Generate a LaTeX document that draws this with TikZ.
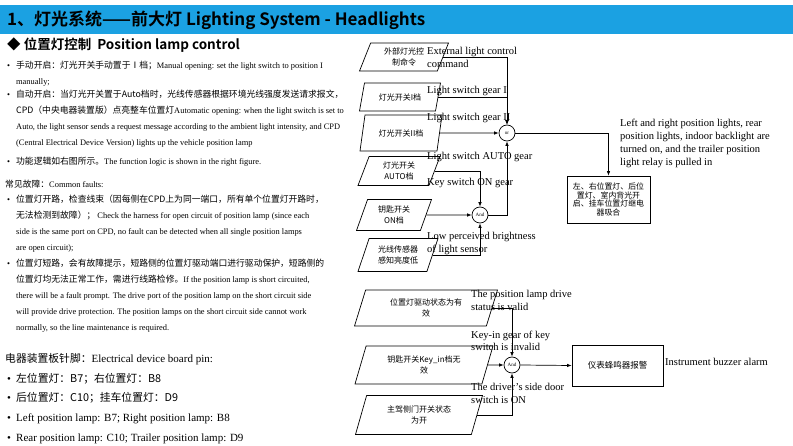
\documentclass[tikz,border=0pt]{standalone}
\usepackage{fontspec}
\setmainfont{Liberation Serif}
\newfontfamily\cjk{Noto Sans CJK SC}[BoldFont={Noto Sans CJK SC Bold}]
\usetikzlibrary{shapes.geometric,arrows.meta}
\definecolor{band}{HTML}{1BA1E2}
\newcommand{\zh}[1]{{\cjk\fontsize{8.8}{16}\selectfont #1}}
\newcommand{\zhb}[1]{{\cjk\fontsize{10.8}{19.7}\selectfont #1}}
\newcommand{\bul}{\makebox[9pt][l]{•}}

\begin{document}
\begin{tikzpicture}[
    x=1pt,y=-1pt,
    body/.style={anchor=north west,inner sep=0,align=left,font=\fontsize{8.4}{16}\selectfont},
    inbox/.style={draw,trapezium,trapezium left angle=62,trapezium right angle=118,
      trapezium stretches body,inner sep=1pt,align=center,line width=0.7pt,
      font=\cjk\fontsize{8}{11.5}\selectfont},
    gate/.style={draw,circle,minimum size=16,inner sep=0,line width=0.7pt,font=\fontsize{5}{5}\selectfont},
    outbox/.style={draw,rectangle,inner sep=2pt,align=center,line width=0.8pt},
    lbl/.style={anchor=north west,inner sep=0,align=left,font=\fontsize{10.5}{12.5}\selectfont},
    arrow/.style={-{Latex[length=4.5pt,width=3.5pt]},line width=0.7pt}
  ]
    \useasboundingbox (0,0) rectangle (793,446);
    % title
    \fill[band] (0,5) rectangle (793,34);
    \node[anchor=west,inner sep=0,font=\cjk\bfseries\fontsize{17}{20}\selectfont] (title) at (7,20)
      {1、灯光系统——前大灯 Lighting System - Headlights};
    \node[anchor=west,inner sep=0,font=\cjk\bfseries\fontsize{13.5}{16}\selectfont] (sub) at (7,45)
      {◆ 位置灯控制\hspace{6pt}Position lamp control};

    % left text
    \node[body] (manual) at (7,60.5) {\bul\zh{手动开启：灯光开关手动置于Ⅰ档；}Manual opening: set the light switch to position I\\
      \hspace{9pt}manually;};
    \node[body] (autoon) at (7,89.5) {\bul\zh{自动开启：当灯光开关置于Auto档时，光线传感器根据环境光线强度发送请求报文，}\\
      \hspace{9pt}\zh{CPD（中央电器装置版）点亮整车位置灯}Automatic opening: when the light switch is set to\\
      \hspace{9pt}Auto, the light sensor sends a request message according to the ambient light intensity, and CPD\\
      \hspace{9pt}(Central Electrical Device Version) lights up the vehicle position lamp};
    \node[body] (logic) at (7,156.5) {\bul\zh{功能逻辑如右图所示。}The function logic is shown in the right figure.};
    \node[body] (faults) at (5,179.5) {\zh{常见故障：}Common faults:};
    \node[body] (openc) at (7,194.5) {\bul\zh{位置灯开路，检查线束（因每侧在CPD上为同一端口，所有单个位置灯开路时，}\\
      \hspace{9pt}\zh{无法检测到故障）；} Check the harness for open circuit of position lamp (since each\\
      \hspace{9pt}side is the same port on CPD, no fault can be detected when all single position lamps\\
      \hspace{9pt}are open circuit);};
    \node[body] (shortc) at (7,258.5) {\bul\zh{位置灯短路，会有故障提示，短路侧的位置灯驱动端口进行驱动保护，短路侧的}\\
      \hspace{9pt}\zh{位置灯均无法正常工作，需进行线路检修。}If the position lamp is short circuited,\\
      \hspace{9pt}there will be a fault prompt. The drive port of the position lamp on the short circuit side\\
      \hspace{9pt}will provide drive protection. The position lamps on the short circuit side cannot work\\
      \hspace{9pt}normally, so the line maintenance is required.};
    \node[body,font=\fontsize{11}{19.7}\selectfont] (pinhead) at (5,352.8) {\zhb{电器装置板针脚：}Electrical device board pin:};
    \node[body,font=\fontsize{11}{19.7}\selectfont] (pins) at (7,372.8) {\bul\zhb{左位置灯：B7；右位置灯：B8}\\
      \bul\zhb{后位置灯：C10；挂车位置灯：D9}\\
      \bul Left position lamp: B7; Right position lamp: B8\\
      \bul Rear position lamp: C10; Trailer position lamp: D9};

    % inputs
    \node[inbox,minimum width=89,minimum height=28] (ext) at (404,57) {外部灯光控\\制命令};
    \node[inbox,minimum width=81,minimum height=28] (gear1) at (400,97) {灯光开关I档};
    \node[inbox,minimum width=82,minimum height=36] (gear2) at (401,133) {灯光开关II档};
    \node[inbox,minimum width=82,minimum height=29] (autog) at (399,171) {灯光开关\\AUTO档};
    \node[inbox,minimum width=75,minimum height=31] (keyon) at (394,215) {钥匙开关\\ON档};
    \node[inbox,minimum width=80,minimum height=33] (sensor) at (398,255) {光线传感器\\感知亮度低};
    \node[inbox,minimum width=143,minimum height=36] (drive) at (426,308) {位置灯驱动状态为有\\效};
    \node[inbox,minimum width=138,minimum height=38] (keyin) at (424,365) {钥匙开关Key\_in档无\\效};
    \node[inbox,minimum width=127,minimum height=39] (door) at (419,415) {主驾侧门开关状态\\为开};

    % gates and outputs
    \node[gate] (or) at (507,133) {or};
    \node[gate] (and1) at (480,215) {And};
    \node[gate] (and2) at (512,365) {And};
    \node[outbox,minimum width=83,minimum height=47,font=\cjk\fontsize{7.9}{8.7}\selectfont] (lamps) at (608.5,199.5)
      {左、右位置灯、后位\\置灯、室内背光开\\启、挂车位置灯继电\\器吸合};
    \node[outbox,minimum width=91,minimum height=41,font=\cjk\fontsize{8.5}{10}\selectfont] (buzzer) at (617.5,365.5) {仪表蜂鸣器报警};

    % labels
    \node[lbl] (extl) at (427,47.5) {External light control\\command};
    \node[lbl] (gear1l) at (427,86.5) {Light switch gear I};
    \node[lbl] (gear2l) at (427,113.5) {Light switch gear II};
    \node[lbl] (autogl) at (427,152.5) {Light switch AUTO gear};
    \node[lbl] (keyonl) at (427,178.5) {Key switch ON gear};
    \node[lbl] (sensorl) at (427,232.5) {Low perceived brightness\\of light sensor};
    \node[lbl] (drivel) at (471,290.5) {The position lamp drive\\status is valid};
    \node[lbl] (keyinl) at (471,330.5) {Key-in gear of key\\switch is invalid};
    \node[lbl] (doorl) at (471,383.5) {The driver's side door\\switch is ON};
    \node[lbl,font=\fontsize{10.5}{13}\selectfont] (lampsl) at (620,118.5) {Left and right position lights, rear\\position lights, indoor backlight are\\turned on, and the trailer position\\light relay is pulled in};
    \node[lbl] (buzzerl) at (665,358.5) {Instrument buzzer alarm};

    % connectors
    \draw[arrow] (ext.east) -| (or.north);
    \draw[arrow] (gear1.east) -| (or.north);
    \draw[arrow] (gear2.east) -- (or.west);
    \draw[arrow] (and1.east) -| (or.south);
    \draw[arrow] (or.east) -| (lamps.north);
    \draw[arrow] (autog.east) -| (and1.north);
    \draw[arrow] (keyon.east) -- (and1.west);
    \draw[arrow] (sensor.east) -| (and1.south);
    \draw[arrow] (drive.east) -| (and2.north);
    \draw[arrow] (keyin.east) -- (and2.west);
    \draw[arrow] (door.east) -| (and2.south);
    \draw[arrow] (and2.east) -- (buzzer.west);
  \end{tikzpicture}
\end{document}
